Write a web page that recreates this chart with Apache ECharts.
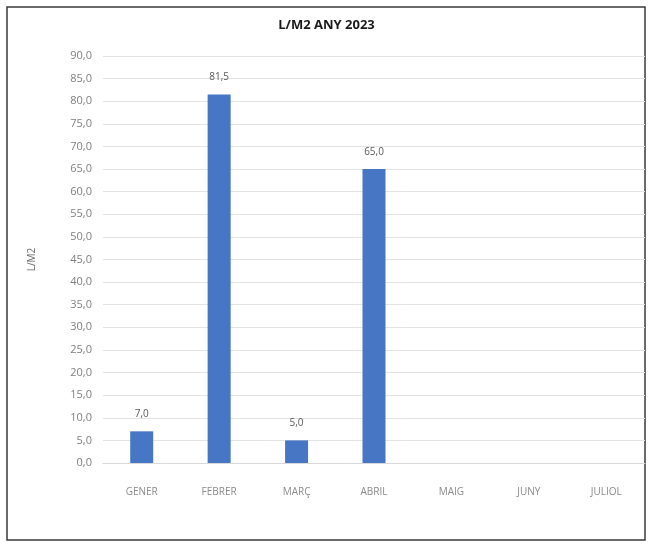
<!DOCTYPE html>
<html>
<head>
<meta charset="utf-8">
<script src="https://cdn.jsdelivr.net/npm/echarts@6/dist/echarts.min.js"></script>
<style>
html,body{margin:0;padding:0;background:#fff;}
#chart{width:653px;height:549px;}
</style>
</head>
<body>
<div id="chart"></div>
<script>
const categories = ['GENER', 'FEBRER', 'MARÇ', 'ABRIL', 'MAIG', 'JUNY', 'JULIOL'];
const values = [7.0, 81.5, 5.0, 65.0, null, null, null];
const titleText = 'L/M2 ANY 2023';
const yAxisName = 'L/M2';

const fmt = v => Number(v).toFixed(1).replace('.', ',');

const chart = echarts.init(document.getElementById('chart'));
chart.setOption({
  animation: false,
  backgroundColor: '#fff',
  graphic: [{
    type: 'rect',
    shape: { x: 7, y: 7, width: 638, height: 533 },
    style: { fill: 'none', stroke: '#3a3a3a', lineWidth: 1.5 },
    silent: true
  }],
  title: {
    text: titleText,
    left: 'center',
    top: 14,
    textStyle: { fontFamily: 'Open Sans', fontWeight: 'bold', fontSize: 13, color: '#1a1a1a' }
  },
  grid: { left: 103, right: 8, top: 56, bottom: 86, containLabel: false },
  xAxis: {
    type: 'category',
    data: categories,
    axisLine: { show: true, lineStyle: { color: '#d9d9d9', width: 1 } },
    axisTick: { show: false },
    axisLabel: { color: '#8a8a8a', fontSize: 10, fontFamily: 'Open Sans', margin: 24 }
  },
  yAxis: {
    type: 'value',
    min: 0,
    max: 90,
    interval: 5,
    name: yAxisName,
    nameLocation: 'middle',
    nameGap: 66,
    nameRotate: 90,
    nameTextStyle: { color: '#666', fontSize: 10, fontFamily: 'Open Sans' },
    axisLine: { show: false },
    axisTick: { show: false },
    splitLine: { lineStyle: { color: '#e3e3e3', width: 1 } },
    axisLabel: { color: '#7f7f7f', fontSize: 11, fontFamily: 'Open Sans', margin: 11, formatter: fmt }
  },
  series: [{
    type: 'bar',
    data: values,
    barWidth: 23,
    itemStyle: { color: '#4676c4' },
    label: {
      show: true,
      position: 'top',
      distance: 12,
      color: '#595959',
      fontSize: 10,
      fontFamily: 'Open Sans',
      formatter: p => fmt(p.value)
    }
  }]
});
</script>
</body>
</html>
